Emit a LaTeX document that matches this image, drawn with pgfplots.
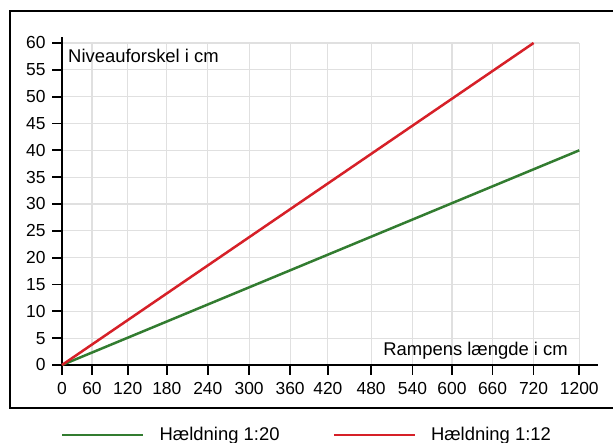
\documentclass[border=0pt]{standalone}
\usepackage{fontspec}
\setmainfont{Liberation Sans}
\usepackage{pgfplots}
\pgfplotsset{compat=1.18}
\definecolor{lgreen}{RGB}{50,124,48}
\definecolor{lred}{RGB}{214,32,40}
\definecolor{lgrid}{RGB}{224,224,224}
\begin{document}
\begin{tikzpicture}[x=1bp,y=1bp]
\useasboundingbox (0,0) rectangle (613,443);
\draw[line width=2bp] (10,35) rectangle (640,432);
\begin{axis}[
  at={(62bp,78bp)}, anchor=south west,
  scale only axis, width=517.3bp, height=322bp,
  xmin=0, xmax=789.8, ymin=0, ymax=60,
  axis lines*=left,
  axis line style={-, line width=1.6bp, black},
  xtick={0,45.8,100.4,160,222.6,285.7,348.3,405.9,472,535.1,595.3,657.4,720,789.8},
  xticklabels={0,60,120,180,240,300,360,420,480,540,600,660,720,1200},
  ytick={0,5,...,60},
  xtick pos=bottom, ytick pos=left,
  tick align=outside, major tick length=10bp,
  every tick/.style={black, line width=1.8bp},
  grid=major, major grid style={lgrid, line width=1.2bp},
  tick label style={font=\fontsize{17.5}{20}\selectfont},
  yticklabel style={xshift=-3bp},
  xticklabel style={yshift=-4bp},
  /pgf/number format/assume math mode=true,
  clip=false,
  legend columns=2,
  legend style={draw=none, fill=none, at={(-0.002,-0.217)}, anchor=west,
    inner sep=0pt, font=\fontsize{18.5}{21}\selectfont,
    nodes={inner sep=0pt},
    /tikz/every odd column/.append style={column sep=15bp},
    /tikz/every even column/.append style={column sep=53bp}},
  legend image code/.code={\draw[#1] (0bp,0bp) -- (81bp,0bp);},
]
\addplot[lgreen, line width=2.5bp] coordinates {(0,0) (789.8,40)};
\addlegendentry{Hældning 1:20}
\addplot[lred, line width=2.5bp] coordinates {(0,0) (720,60)};
\addlegendentry{Hældning 1:12}
\end{axis}
\draw[line width=1.6bp] (579bp,78bp) -- (597.7bp,78bp);
\draw[line width=1.6bp] (62bp,400bp) -- (62bp,406bp);
\node[anchor=base west, inner sep=0, font=\fontsize{18.5}{21}\selectfont] at (68bp,380bp) {Niveauforskel i cm};
\node[anchor=base east, inner sep=0, font=\fontsize{18.5}{21}\selectfont] at (568bp,87bp) {Rampens længde i cm};
\end{tikzpicture}
\end{document}
